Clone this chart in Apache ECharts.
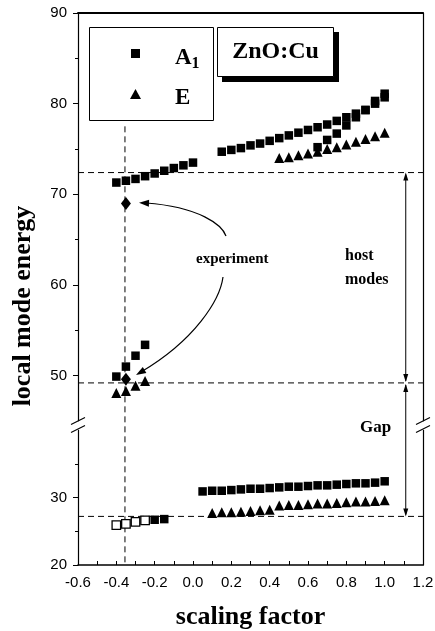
<!DOCTYPE html>
<html><head><meta charset="utf-8">
<script src="https://cdn.jsdelivr.net/npm/echarts@6/dist/echarts.min.js"></script>
<style>html,body{margin:0;padding:0;background:#fff}#c{width:435px;height:631px}</style>
</head><body><div id="c"></div>
<script>
// ---------- data ----------
const yUpperTicks = [50, 60, 70, 80, 90];
const yUpperMinor = [55, 65, 75, 85];
const yLowerTicks = [20, 30];
const yLowerMinor = [25, 35];

const a1HighLeftX = [-0.4, -0.35, -0.3, -0.25, -0.2, -0.15, -0.1, -0.05, 0.0];
const a1HighLeftY = [71.3, 71.5, 71.7, 72.0, 72.3, 72.6, 72.9, 73.2, 73.5];
const a1HighRightX = [0.15, 0.2, 0.25, 0.3, 0.35, 0.4, 0.45, 0.5, 0.55, 0.6, 0.65, 0.7, 0.75, 0.8, 0.85, 0.9, 0.95, 1.0];
const a1HighRightY = [74.7, 74.9, 75.1, 75.4, 75.6, 75.9, 76.2, 76.5, 76.8, 77.1, 77.4, 77.7, 78.1, 78.5, 78.9, 79.3, 80.0, 80.7];
const a1BranchX = [0.65, 0.7, 0.75, 0.8, 0.85, 0.9, 0.95, 1.0];
const a1BranchY = [75.2, 76.0, 76.7, 77.6, 78.5, 79.3, 80.3, 81.1];
const eHighX = [0.45, 0.5, 0.55, 0.6, 0.65, 0.7, 0.75, 0.8, 0.85, 0.9, 0.95, 1.0];
const eHighY = [74.0, 74.1, 74.3, 74.5, 74.7, 75.0, 75.2, 75.5, 75.8, 76.1, 76.4, 76.8];
const a1MidX = [-0.4, -0.35, -0.3, -0.25];
const a1MidY = [49.9, 51.0, 52.2, 53.4];
const eMidX = [-0.4, -0.35, -0.3, -0.25];
const eMidY = [48.1, 48.3, 48.9, 49.4];
const expX = [-0.35, -0.35];
const expY = [69.0, 49.6];
const a1LowOpenX = [-0.4, -0.35, -0.3, -0.25];
const a1LowOpenY = [25.9, 26.1, 26.4, 26.6];
const a1LowLeftX = [-0.2, -0.15];
const a1LowLeftY = [26.7, 26.8];
const a1LowRightX = [0.05, 0.1, 0.15, 0.2, 0.25, 0.3, 0.35, 0.4, 0.45, 0.5, 0.55, 0.6, 0.65, 0.7, 0.75, 0.8, 0.85, 0.9, 0.95, 1.0];
const a1LowRightY = [30.9, 31.0, 31.0, 31.1, 31.2, 31.3, 31.3, 31.4, 31.5, 31.6, 31.6, 31.7, 31.8, 31.8, 31.9, 32.0, 32.1, 32.1, 32.2, 32.4];
const eLowX = [0.1, 0.15, 0.2, 0.25, 0.3, 0.35, 0.4, 0.45, 0.5, 0.55, 0.6, 0.65, 0.7, 0.75, 0.8, 0.85, 0.9, 0.95, 1.0];
const eLowY = [27.7, 27.8, 27.8, 27.9, 28.0, 28.1, 28.2, 28.8, 28.9, 28.9, 29.0, 29.1, 29.1, 29.2, 29.3, 29.4, 29.4, 29.5, 29.6];

// reference levels
const hostTop = 72.4, hostBottom = 49.2, gapBottom = 27.2;
const expLineX = -0.355, expLineTop = 77.5;
const arrowX = 1.11;

// ---------- chart ----------
const pts = (xs, ys) => xs.map((x, i) => [x, ys[i]]);
const BLACK = '#000';
const sans = 'Liberation Sans';
const serif = 'Liberation Serif';

function sq(name, xs, ys, g, open) {
  return {
    type: 'scatter', name, xAxisIndex: g ? 1 : 0, yAxisIndex: g ? 3 : 0,
    symbol: 'rect', symbolSize: 8.5, data: pts(xs, ys), silent: true,
    itemStyle: open ? {color: '#fff', borderColor: BLACK, borderWidth: 1.3, opacity: 1} : {color: BLACK, opacity: 1}
  };
}
function tri(name, xs, ys, g) {
  return {
    type: 'scatter', name, xAxisIndex: g ? 1 : 0, yAxisIndex: g ? 3 : 0,
    symbol: 'triangle', symbolSize: 10, data: pts(xs, ys), silent: true,
    itemStyle: {color: BLACK, opacity: 1}
  };
}
function hline(y, g) {
  return {
    type: 'line', xAxisIndex: g ? 1 : 0, yAxisIndex: g ? 3 : 0, symbol: 'none', silent: true,
    data: [[-0.6, y], [1.2, y]], lineStyle: {color: BLACK, width: 1, type: [6, 4]}, z: 1
  };
}

const yAxisBase = (g, min, max, pos) => ({
  gridIndex: g, type: 'value', min, max, position: pos,
  axisLine: {show: true, onZero: false, lineStyle: {color: BLACK, width: 1.2}},
  axisTick: {show: false}, axisLabel: {show: false}, splitLine: {show: false}
});

const option = {
  animation: false,
  backgroundColor: '#fff',
  grid: [
    {left: 78, right: 12, top: 13, height: 408, outerBoundsMode: 'none'},
    {left: 78, right: 12, top: 430, height: 135, outerBoundsMode: 'none'}
  ],
  xAxis: [
    {gridIndex: 0, type: 'value', min: -0.6, max: 1.2, position: 'top',
     axisLine: {onZero: false, lineStyle: {color: BLACK, width: 2}},
     axisTick: {show: false}, axisLabel: {show: false}, splitLine: {show: false}},
    {gridIndex: 1, type: 'value', min: -0.6, max: 1.2, interval: 0.2, position: 'bottom',
     axisLine: {onZero: false, lineStyle: {color: BLACK, width: 1.5}},
     axisTick: {show: true, inside: true, length: 4, lineStyle: {color: BLACK}},
     minorTick: {show: true, splitNumber: 2, length: 4, lineStyle: {color: BLACK}},
     axisLabel: {formatter: v => (Math.abs(v) < 1e-9 ? '0.0' : v.toFixed(1)), color: BLACK, fontSize: 15, fontFamily: sans, margin: 10},
     splitLine: {show: false}, minorSplitLine: {show: false},
     name: 'scaling factor', nameLocation: 'middle', nameGap: 39,
     nameTextStyle: {fontFamily: serif, fontWeight: 'bold', fontSize: 26, color: BLACK}}
  ],
  yAxis: [
    Object.assign(yAxisBase(0, 45, 90, 'left'), {
      axisTick: {show: true, length: 5, customValues: yUpperTicks, lineStyle: {color: BLACK}},
      axisLabel: {show: true, customValues: yUpperTicks, margin: 11, color: BLACK, fontSize: 15, fontFamily: sans}
    }),
    Object.assign(yAxisBase(0, 45, 90, 'left'), {
      axisLine: {show: false, onZero: false},
      axisTick: {show: true, length: 3, customValues: yUpperMinor, lineStyle: {color: BLACK}}
    }),
    yAxisBase(0, 45, 90, 'right'),
    Object.assign(yAxisBase(1, 20, 40, 'left'), {
      axisTick: {show: true, length: 5, customValues: yLowerTicks, lineStyle: {color: BLACK}},
      axisLabel: {show: true, customValues: yLowerTicks, margin: 11, color: BLACK, fontSize: 15, fontFamily: sans}
    }),
    Object.assign(yAxisBase(1, 20, 40, 'left'), {
      axisLine: {show: false, onZero: false},
      axisTick: {show: true, length: 3, customValues: yLowerMinor, lineStyle: {color: BLACK}}
    }),
    yAxisBase(1, 20, 40, 'right')
  ],
  series: [
    sq('A1', a1HighLeftX, a1HighLeftY, 0),
    sq('A1', a1HighRightX, a1HighRightY, 0),
    sq('A1', a1BranchX, a1BranchY, 0),
    tri('E', eHighX, eHighY, 0),
    sq('A1', a1MidX, a1MidY, 0),
    tri('E', eMidX, eMidY, 0),
    {type: 'scatter', name: 'experiment', xAxisIndex: 0, yAxisIndex: 0, symbol: 'diamond', symbolSize: [10, 13],
     data: pts(expX, expY), itemStyle: {color: BLACK, opacity: 1}, silent: true, z: 5},
    sq('A1', a1LowOpenX, a1LowOpenY, 1, true),
    sq('A1', a1LowLeftX, a1LowLeftY, 1),
    sq('A1', a1LowRightX, a1LowRightY, 1),
    tri('E', eLowX, eLowY, 1),
    hline(hostTop, 0),
    hline(hostBottom, 0),
    hline(gapBottom, 1)
  ]
};

const chart = echarts.init(document.getElementById('c'));
chart.setOption(option);

const U = (x, y) => chart.convertToPixel({seriesIndex: 0}, [x, y]);
const L = (x, y) => chart.convertToPixel({seriesIndex: 9}, [x, y]);

function head(tx, ty, fx, fy, len, hw) {
  const dx = tx - fx, dy = ty - fy, d = Math.hypot(dx, dy), ux = dx / d, uy = dy / d;
  const bx = tx - ux * len, by = ty - uy * len;
  return {type: 'polygon', z: 100, shape: {points: [[tx, ty], [bx - uy * hw, by + ux * hw], [bx + uy * hw, by - ux * hw]]}, style: {fill: BLACK}};
}
function seg(x1, y1, x2, y2, extra) {
  return Object.assign({type: 'line', z: 100, shape: {x1, y1, x2, y2}, style: {stroke: BLACK, lineWidth: 1}}, extra || {});
}

const g = [];
// vertical dashed line through experiment
const vTop = U(expLineX, expLineTop), vBot = L(expLineX, 20);
g.push(seg(vTop[0], vTop[1], vBot[0], vBot[1], {z: 1, style: {stroke: BLACK, lineWidth: 1, lineDash: [6, 4]}}));

// axis break marks
const brkTop = U(-0.6, 45)[1], brkBot = L(-0.6, 40)[1], yc = (brkTop + brkBot) / 2;
[U(-0.6, 45)[0], U(1.2, 45)[0]].forEach(xb => {
  g.push({type: 'rect', z: 90, shape: {x: xb - 3, y: brkTop + 0.5, width: 6, height: brkBot - brkTop - 1}, style: {fill: '#fff'}});
  g.push(seg(xb - 7, yc - 1, xb + 7, yc - 8, {style: {stroke: BLACK, lineWidth: 1.2}}));
  g.push(seg(xb - 7, yc + 7, xb + 7, yc, {style: {stroke: BLACK, lineWidth: 1.2}}));
});

// vertical double-headed arrows (host modes / Gap)
const aT = U(arrowX, hostTop), aM = U(arrowX, hostBottom), aB = L(arrowX, gapBottom);
g.push(seg(aT[0], aT[1] + 2, aM[0], aM[1] - 2));
g.push(head(aT[0], aT[1], aT[0], aT[1] + 10, 8, 2.5));
g.push(head(aM[0], aM[1] - 1, aM[0], aM[1] - 11, 8, 2.5));
g.push(seg(aM[0], aM[1] + 2, aB[0], aB[1] - 2));
g.push(head(aM[0], aM[1] + 1, aM[0], aM[1] + 11, 8, 2.5));
g.push(head(aB[0], aB[1], aB[0], aB[1] - 10, 8, 2.5));

// curved arrows from "experiment" to the experimental points
const c1 = {x1: 226, y1: 236, cpx1: 222, cpy1: 225, cpx2: 200, cpy2: 207, x2: 146, y2: 203};
const c2 = {x1: 223, y1: 277, cpx1: 220, cpy1: 300, cpx2: 195, cpy2: 340, x2: 141, y2: 372};
[c1, c2].forEach(c => {
  g.push({type: 'bezierCurve', z: 100, shape: c, style: {stroke: BLACK, lineWidth: 1.2, fill: null}});
});
g.push(head(139, 202.8, 160, 203.6, 10, 3.5));
g.push(head(136, 375, 152, 365.5, 10, 3.5));

// annotation texts
const txt = (text, x, y, size, extra) => Object.assign({type: 'text', z: 100, x, y,
  style: {text, fill: BLACK, font: 'bold ' + size + 'px "' + serif + '"', align: 'left', verticalAlign: 'middle'}}, extra || {});
g.push(txt('experiment', 196, 259, 15));
g.push(txt('host', 345, 256, 16));
g.push(txt('modes', 345, 280, 16));
g.push(txt('Gap', 360, 428, 17));

// y axis title
g.push({type: 'text', z: 100, x: 23, y: 306, rotation: Math.PI / 2,
  style: {text: 'local mode energy', fill: BLACK, font: 'bold 26px "' + serif + '"', align: 'center', verticalAlign: 'middle'}});

// legend box
g.push({type: 'rect', z: 95, shape: {x: 89.5, y: 27.5, width: 124, height: 93}, style: {fill: '#fff', stroke: BLACK, lineWidth: 1}});
g.push({type: 'rect', z: 100, shape: {x: 131, y: 49, width: 9, height: 9}, style: {fill: BLACK}});
g.push({type: 'polygon', z: 100, shape: {points: [[130, 99], [141, 99], [135.5, 89]]}, style: {fill: BLACK}});
g.push({type: 'text', z: 100, x: 175, y: 58, style: {
  text: '{a|A}{s|1}', fill: BLACK, verticalAlign: 'middle', align: 'left',
  rich: {a: {font: 'bold 23px "' + serif + '"', fill: BLACK},
         s: {font: 'bold 16px "' + serif + '"', fill: BLACK, padding: [12, 0, 0, 0]}}}});
g.push(txt('E', 175, 98, 23));

// ZnO:Cu label box with shadow
g.push({type: 'rect', z: 94, shape: {x: 222, y: 32, width: 117, height: 50}, style: {fill: BLACK}});
g.push({type: 'rect', z: 95, shape: {x: 217.5, y: 27.5, width: 116, height: 49}, style: {fill: '#fff', stroke: BLACK, lineWidth: 1}});
g.push({type: 'text', z: 100, x: 275.5, y: 52, style: {text: 'ZnO:Cu', fill: BLACK, font: 'bold 24px "' + serif + '"', align: 'center', verticalAlign: 'middle'}});

chart.setOption({graphic: g});
</script>
</body></html>
